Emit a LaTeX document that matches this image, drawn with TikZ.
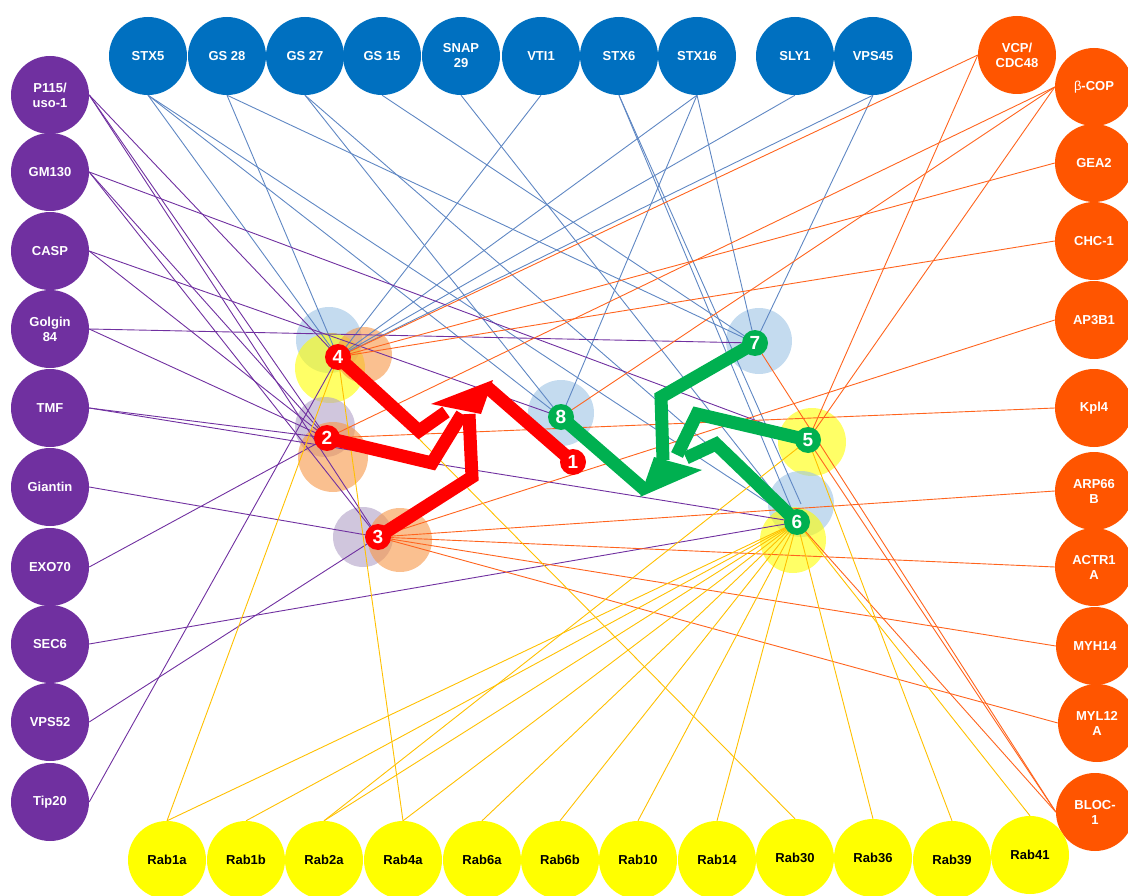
\documentclass[tikz,border=0pt]{standalone}
\usepackage{fontspec}
\setmainfont{Liberation Sans}
\definecolor{snare}{RGB}{0,112,192}
\definecolor{tether}{RGB}{112,48,160}
\definecolor{coat}{RGB}{255,85,0}
\definecolor{rabyel}{RGB}{255,255,0}
\definecolor{snarewire}{RGB}{95,135,195}
\definecolor{coatwire}{RGB}{255,100,30}
\definecolor{rabwire}{RGB}{255,192,0}
\definecolor{pathgreen}{RGB}{0,176,80}
\definecolor{haloblue}{RGB}{156,195,229}
\definecolor{haloorange}{RGB}{247,150,70}
\definecolor{halopurple}{RGB}{177,160,199}
\pgfdeclarelayer{halos}
\pgfdeclarelayer{wires}
\pgfdeclarelayer{bands}
\pgfsetlayers{halos,wires,bands,main}

\begin{document}
\begin{tikzpicture}[x=1pt,y=-1pt,
  prot/.style={circle,minimum size=78pt,inner sep=0pt,align=center,font=\fontsize{13}{15}\selectfont\bfseries},
  snarebox/.style={prot,fill=snare,text=white},
  tetherbox/.style={prot,fill=tether,text=white},
  coatbox/.style={prot,fill=coat,text=white},
  rabbox/.style={prot,fill=rabyel,text=black},
  num/.style={circle,minimum size=26pt,inner sep=0pt,text=white,font=\fontsize{19}{19}\selectfont\bfseries},
  halo/.style={circle,minimum size=66pt,inner sep=0pt,fill opacity=0.6},
  bluewire/.style={snarewire,line width=0.9pt},
  purplewire/.style={tether,line width=0.9pt},
  orangewire/.style={coatwire,line width=0.9pt},
  yellowwire/.style={rabwire,line width=0.9pt},
  redband/.style={red,line width=13pt},
  greenband/.style={pathgreen,line width=13pt}]
  \useasboundingbox (0,0) rectangle (1128,896);

  % top row
  \node[snarebox] (stx5) at (148,56) {STX5};
  \node[snarebox] (gs28) at (227,56) {GS 28};
  \node[snarebox] (gs27) at (305,56) {GS 27};
  \node[snarebox] (gs15) at (382,56) {GS 15};
  \node[snarebox] (snap) at (461,56) {SNAP\\29};
  \node[snarebox] (vti) at (541,56) {VTI1};
  \node[snarebox] (stx6) at (619,56) {STX6};
  \node[snarebox] (stx16) at (697,56) {STX16};
  \node[snarebox] (sly) at (795,56) {SLY1};
  \node[snarebox] (vps45) at (873,56) {VPS45};

  % left column
  \node[tetherbox] (p115) at (50,95) {P115/\\uso-1};
  \node[tetherbox] (gm130) at (50,172) {GM130};
  \node[tetherbox] (casp) at (50,251) {CASP};
  \node[tetherbox] (golgin) at (50,329) {Golgin\\84};
  \node[tetherbox] (tmf) at (50,408) {TMF};
  \node[tetherbox] (giantin) at (50,487) {Giantin};
  \node[tetherbox] (exo) at (50,567) {EXO70};
  \node[tetherbox] (sec) at (50,644) {SEC6};
  \node[tetherbox] (vps52) at (50,722) {VPS52};
  \node[tetherbox] (tip) at (50,802) {Tip20};

  % right column
  \node[coatbox] (vcp) at (1017,55) {VCP/\\CDC48};
  \node[coatbox] (bcop) at (1094,87) {{\mdseries β}-COP};
  \node[coatbox] (gea) at (1094,163) {GEA2};
  \node[coatbox] (chc) at (1094,241) {CHC-1};
  \node[coatbox] (ap3) at (1094,320) {AP3B1};
  \node[coatbox] (kpl) at (1094,408) {Kpl4};
  \node[coatbox] (arp) at (1094,491) {ARP66\\B};
  \node[coatbox] (actr) at (1094,567) {ACTR1\\A};
  \node[coatbox] (myh) at (1095,646) {MYH14};
  \node[coatbox] (myl) at (1097,723) {MYL12\\A};
  \node[coatbox] (bloc) at (1095,812) {BLOC-\\1};

  % bottom row
  \node[rabbox] (rab1a) at (167,860) {Rab1a};
  \node[rabbox] (rab1b) at (246,860) {Rab1b};
  \node[rabbox] (rab2a) at (324,860) {Rab2a};
  \node[rabbox] (rab4a) at (403,860) {Rab4a};
  \node[rabbox] (rab6a) at (482,860) {Rab6a};
  \node[rabbox] (rab6b) at (560,860) {Rab6b};
  \node[rabbox] (rab10) at (638,860) {Rab10};
  \node[rabbox] (rab14) at (717,860) {Rab14};
  \node[rabbox] (rab30) at (795,858) {Rab30};
  \node[rabbox] (rab36) at (873,858) {Rab36};
  \node[rabbox] (rab39) at (952,860) {Rab39};
  \node[rabbox] (rab41) at (1030,855) {Rab41};

  % numbered hubs
  \node[num,fill=red] (n1) at (573,462) {1};
  \node[num,fill=red] (n2) at (327,438) {2};
  \node[num,fill=red] (n3) at (378,537) {3};
  \node[num,fill=red] (n4) at (338,357) {4};
  \node[num,fill=pathgreen] (n5) at (808,440) {5};
  \node[num,fill=pathgreen] (n6) at (797,522) {6};
  \node[num,fill=pathgreen] (n7) at (755,343) {7};
  \node[num,fill=pathgreen] (n8) at (561,417) {8};

  \begin{pgfonlayer}{halos}
    \node[halo,fill=haloblue] (h4b) at (329,340) {};
    \node[halo,fill=rabyel,minimum size=70pt] (h4y) at (330,368) {};
    \node[halo,fill=haloorange,minimum size=56pt] (h4o) at (364,355) {};
    \node[halo,fill=halopurple,minimum size=60pt] (h2p) at (325,427) {};
    \node[halo,fill=haloorange,minimum size=70pt] (h2o) at (333,457) {};
    \node[halo,fill=halopurple,minimum size=60pt] (h3p) at (363,537) {};
    \node[halo,fill=haloorange,minimum size=64pt] (h3o) at (400,540) {};
    \node[halo,fill=haloblue] (h8b) at (561,413) {};
    \node[halo,fill=haloblue] (h7b) at (759,341) {};
    \node[halo,fill=rabyel,minimum size=68pt] (h5y) at (812,442) {};
    \node[halo,fill=haloblue] (h6b) at (801,504) {};
    \node[halo,fill=rabyel] (h6y) at (793,540) {};
  \end{pgfonlayer}

  \begin{pgfonlayer}{wires}
    % SNAREs and SM proteins
    \draw[bluewire] (stx5.south) -- (n4.center);
    \draw[bluewire] (stx5.south) -- (n8.center);
    \draw[bluewire] (stx5.south) -- (n6.center);
    \draw[bluewire] (gs28.south) -- (n4.center);
    \draw[bluewire] (gs28.south) -- (n7.center);
    \draw[bluewire] (gs27.south) -- (n8.center);
    \draw[bluewire] (gs27.south) -- (n6.center);
    \draw[bluewire] (gs15.south) -- (n7.center);
    \draw[bluewire] (snap.south) -- (n6.center);
    \draw[bluewire] (vti.south) -- (n4.center);
    \draw[bluewire] (stx6.south) -- (n6.center);
    \draw[bluewire] (stx6.south) -- (h6b.center);
    \draw[bluewire] (stx16.south) -- (n4.center);
    \draw[bluewire] (stx16.south) -- (n8.center);
    \draw[bluewire] (stx16.south) -- (n7.center);
    \draw[bluewire] (sly.south) -- (n4.center);
    \draw[bluewire] (vps45.south) -- (n4.center);
    \draw[bluewire] (vps45.south) -- (n7.center);
    % tethers
    \draw[purplewire] (p115.east) -- (n4.center);
    \draw[purplewire] (p115.east) -- (n2.center);
    \draw[purplewire] (p115.east) -- (n3.center);
    \draw[purplewire] (gm130.east) -- (n2.center);
    \draw[purplewire] (gm130.east) -- (n3.center);
    \draw[purplewire] (gm130.east) -- (n5.center);
    \draw[purplewire] (casp.east) -- (n2.center);
    \draw[purplewire] (casp.east) -- (n8.center);
    \draw[purplewire] (golgin.east) -- (n2.center);
    \draw[purplewire] (golgin.east) -- (n7.center);
    \draw[purplewire] (tmf.east) -- (n2.center);
    \draw[purplewire] (tmf.east) -- (n6.center);
    \draw[purplewire] (giantin.east) -- (n3.center);
    \draw[purplewire] (exo.east) -- (n2.center);
    \draw[purplewire] (sec.east) -- (n6.center);
    \draw[purplewire] (vps52.east) -- (n3.center);
    \draw[purplewire] (tip.east) -- (n4.center);
    % coats and motors
    \draw[orangewire] (vcp.west) -- (n4.center);
    \draw[orangewire] (vcp.west) -- (n5.center);
    \draw[orangewire] (bcop.west) -- (n2.center);
    \draw[orangewire] (bcop.west) -- (n8.center);
    \draw[orangewire] (bcop.west) -- (n5.center);
    \draw[orangewire] (gea.west) -- (n4.center);
    \draw[orangewire] (chc.west) -- (n4.center);
    \draw[orangewire] (ap3.west) -- (n3.center);
    \draw[orangewire] (kpl.west) -- (n2.center);
    \draw[orangewire] (arp.west) -- (n3.center);
    \draw[orangewire] (actr.west) -- (n3.center);
    \draw[orangewire] (myh.west) -- (n3.center);
    \draw[orangewire] (myl.west) -- (n3.center);
    \draw[orangewire] (bloc.west) -- (n7.center);
    \draw[orangewire] (bloc.west) -- (n5.center);
    \draw[orangewire] (bloc.west) -- (n6.center);
    % Rabs
    \draw[yellowwire] (rab1a.north) -- (n4.center);
    \draw[yellowwire] (rab1a.north) -- (n6.center);
    \draw[yellowwire] (rab1b.north) -- (n6.center);
    \draw[yellowwire] (rab2a.north) -- (n6.center);
    \draw[yellowwire] (rab2a.north) -- (n5.center);
    \draw[yellowwire] (rab4a.north) -- (n4.center);
    \draw[yellowwire] (rab4a.north) -- (n6.center);
    \draw[yellowwire] (rab6a.north) -- (n6.center);
    \draw[yellowwire] (rab6b.north) -- (n6.center);
    \draw[yellowwire] (rab10.north) -- (n6.center);
    \draw[yellowwire] (rab14.north) -- (n6.center);
    \draw[yellowwire] (rab30.north) -- (n4.center);
    \draw[yellowwire] (rab36.north) -- (n6.center);
    \draw[yellowwire] (rab39.north) -- (n5.center);
    \draw[yellowwire] (rab41.north) -- (n6.center);
  \end{pgfonlayer}

  \begin{pgfonlayer}{bands}
    % red route into 1
    \coordinate (rk4) at (419,431);
    \coordinate (rk2) at (432,463);
    \coordinate (rk3) at (472,477);
    \coordinate (rtip) at (493,380);
    \draw[redband] (n4.center) -- (rk4) -- (446,412);
    \draw[redband] (n2.center) -- (rk2) -- (462,414);
    \draw[redband] (n3.center) -- (rk3) -- (469,414);
    \fill[red] (431,404) -- (481,414) -- (rtip) -- cycle;
    \draw[redband] (487,387) -- (n1.center);
    % green route into 8
    \coordinate (gk7) at (661,397);
    \coordinate (gk5) at (697,414);
    \coordinate (gk6) at (716,444);
    \coordinate (gtip) at (640,497);
    \draw[greenband] (n7.center) -- (gk7) -- (663,460);
    \draw[greenband] (n5.center) -- (gk5) -- (677,455);
    \draw[greenband] (n6.center) -- (gk6) -- (686,458);
    \fill[pathgreen] (654,457) -- (702,470) -- (gtip) -- cycle;
    \draw[greenband] (645,490) -- (n8.center);
  \end{pgfonlayer}
\end{tikzpicture}
\end{document}
